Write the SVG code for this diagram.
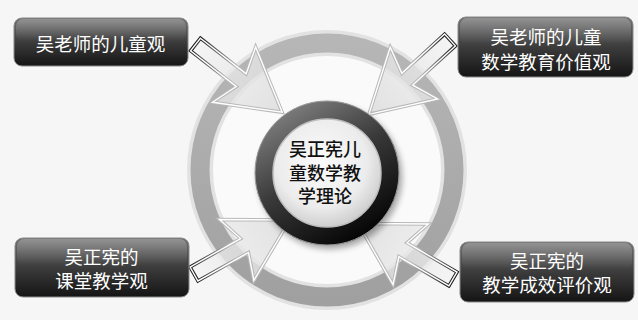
<svg xmlns="http://www.w3.org/2000/svg" width="638" height="320" viewBox="0 0 638 320">
<style>
.bt{font-family:"Noto Sans CJK SC","Noto Sans",sans-serif;font-size:18.5px;fill:#ffffff;text-anchor:middle}
.ct{font-family:"Noto Sans CJK SC","Noto Sans",sans-serif;font-size:18px;fill:#111111;text-anchor:middle;font-weight:500}
.box{fill:url(#boxg);stroke:#8a8a8a;stroke-width:1}
.gloss{fill:url(#glossg)}
</style>
<defs>
<linearGradient id="boxg" x1="0" y1="0" x2="0" y2="1">
<stop offset="0" stop-color="#707070"/>
<stop offset="0.5" stop-color="#3c3c3c"/>
<stop offset="1" stop-color="#141414"/>
</linearGradient>
<linearGradient id="glossg" x1="0" y1="0" x2="0" y2="1">
<stop offset="0" stop-color="#ffffff" stop-opacity="0.25"/>
<stop offset="1" stop-color="#ffffff" stop-opacity="0"/>
</linearGradient>
<linearGradient id="bandg" x1="0" y1="0" x2="0" y2="1">
<stop offset="0" stop-color="#b6b6b6"/>
<stop offset="1" stop-color="#a0a0a0"/>
</linearGradient>
<linearGradient id="ringg" x1="0.2" y1="0" x2="0.8" y2="1">
<stop offset="0" stop-color="#7a7a7a"/>
<stop offset="0.45" stop-color="#3a3a3a"/>
<stop offset="1" stop-color="#050505"/>
</linearGradient>
<radialGradient id="diskg" cx="0.45" cy="0.4" r="0.6">
<stop offset="0" stop-color="#fbfbfb"/>
<stop offset="0.7" stop-color="#ececec"/>
<stop offset="1" stop-color="#cfcfcf"/>
</radialGradient>
<linearGradient id="arrStroke" gradientUnits="userSpaceOnUse" x1="0" y1="0" x2="45" y2="0">
<stop offset="0" stop-color="#1e1e1e"/>
<stop offset="1" stop-color="#b8b8b8"/>
</linearGradient>
<linearGradient id="arrFill" gradientUnits="userSpaceOnUse" x1="0" y1="0" x2="110" y2="0">
<stop offset="0" stop-color="#f4f4f4" stop-opacity="0.75"/>
<stop offset="1" stop-color="#dadada" stop-opacity="0.8"/>
</linearGradient>
<filter id="blur" x="-20%" y="-20%" width="140%" height="140%">
<feGaussianBlur stdDeviation="3"/>
</filter>
<g id="arw">
<path d="M0,-8 L58,-8 L49,-35 L110,0 L49,35 L58,8 L0,8 Z" fill="url(#arrFill)" stroke="url(#arrStroke)" stroke-width="3.5" stroke-linejoin="miter"/>
<path d="M0,-8 L58,-8 L49,-35 L110,0 L49,35 L58,8 L0,8 Z" fill="none" stroke="#ffffff" stroke-width="1.4" stroke-linejoin="miter"/>
</g>
</defs>
<rect width="638" height="320" fill="#f6f6f6"/>
<g id="outer-ring">
<circle cx="327" cy="170" r="127" fill="#fafafa" stroke="#e2e2e2" stroke-width="26"/>
<circle cx="327" cy="170" r="127" fill="none" stroke="url(#bandg)" stroke-width="19"/>
</g>
<g id="connectors">
<use href="#arw" transform="translate(195.5,44.5) rotate(38)"/>
<use href="#arw" transform="translate(450,40) rotate(137.5)"/>
<use href="#arw" transform="translate(194,274) rotate(-29.4)"/>
<use href="#arw" transform="translate(453,279) rotate(-149.7)"/>
</g>
<g id="center">
<circle cx="330" cy="177" r="72" fill="#000" opacity="0.35" filter="url(#blur)"/>
<circle cx="327" cy="173" r="63" fill="none" stroke="url(#ringg)" stroke-width="18"/>
<circle cx="327" cy="173" r="72" fill="none" stroke="#9a9a9a" stroke-width="1"/>
<circle cx="327" cy="173" r="54" fill="url(#diskg)" stroke="#bdbdbd" stroke-width="1.5"/>
<text class="ct" x="325" y="156">吴正宪儿</text>
<text class="ct" x="325" y="179.5">童数学教</text>
<text class="ct" x="325" y="203">学理论</text>
</g>
<g id="box-tl">
<rect class="box" x="14" y="18" width="174" height="48" rx="8"/>
<rect class="gloss" x="16" y="19" width="170" height="22" rx="7"/>
<text class="bt" x="100.5" y="51">吴老师的儿童观</text>
</g>
<g id="box-tr">
<rect class="box" x="458" y="17" width="175" height="60" rx="8"/>
<rect class="gloss" x="460" y="18" width="171" height="26" rx="7"/>
<text class="bt" x="546" y="44">吴老师的儿童</text>
<text class="bt" x="546" y="69">数学教育价值观</text>
</g>
<g id="box-bl">
<rect class="box" x="15" y="238" width="174" height="59" rx="8"/>
<rect class="gloss" x="17" y="239" width="170" height="26" rx="7"/>
<text class="bt" x="101.5" y="264">吴正宪的</text>
<text class="bt" x="101.5" y="288">课堂教学观</text>
</g>
<g id="box-br">
<rect class="box" x="460" y="242" width="174" height="60" rx="8"/>
<rect class="gloss" x="462" y="243" width="170" height="26" rx="7"/>
<text class="bt" x="547" y="268">吴正宪的</text>
<text class="bt" x="547" y="292">教学成效评价观</text>
</g>
</svg>
